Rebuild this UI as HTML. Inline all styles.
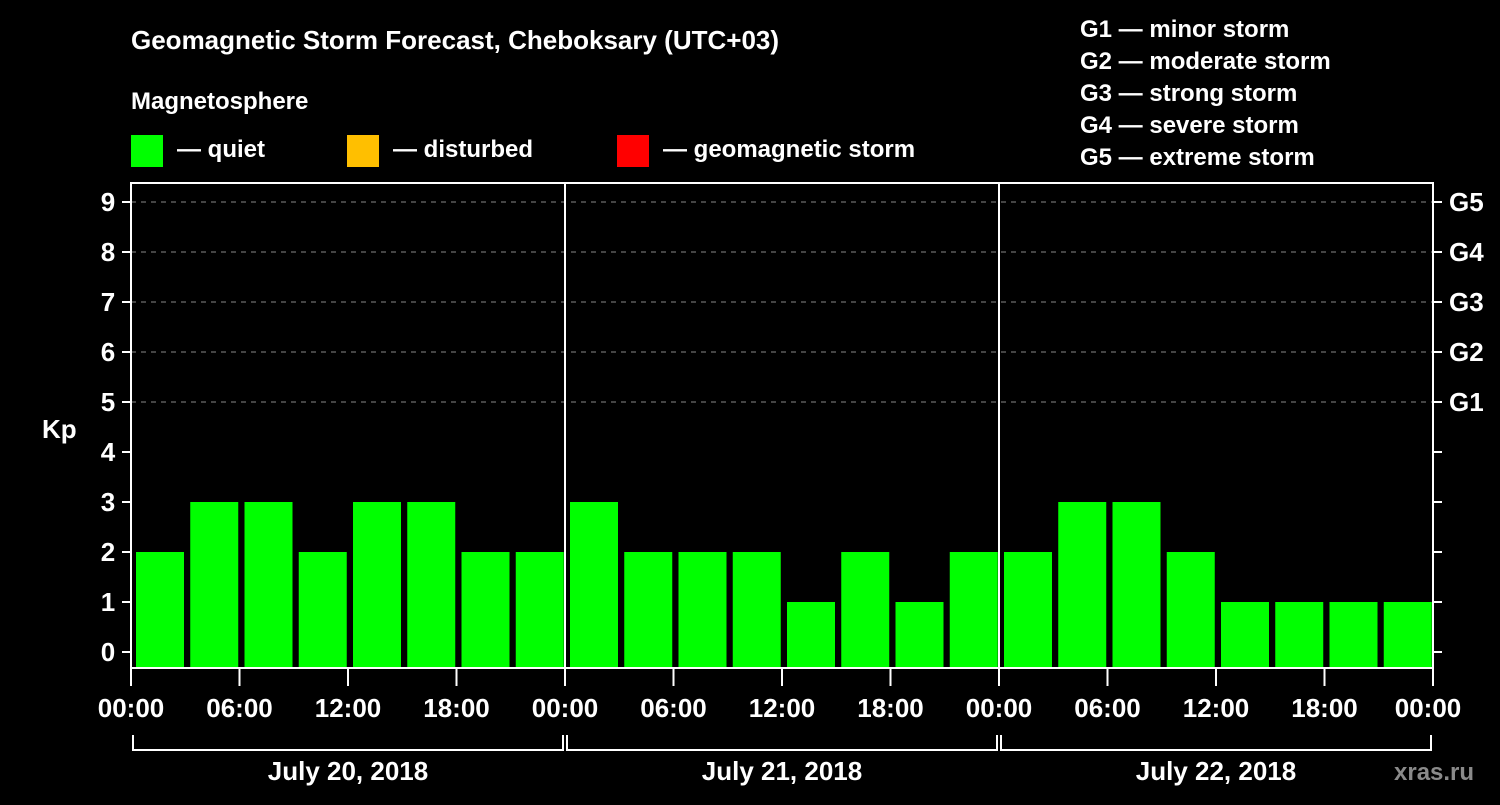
<!DOCTYPE html>
<html><head><meta charset="utf-8"><style>
body{margin:0;background:#000;width:1500px;height:800px;overflow:hidden;font-family:"Liberation Sans",sans-serif;}
svg text{font-family:"Liberation Sans",sans-serif;font-weight:bold;fill:#fff;}
</style></head><body>
<svg id="c" width="1500" height="800">
<rect width="1500" height="800" fill="#000"/>
<text x="131" y="49" font-size="26">Geomagnetic Storm Forecast, Cheboksary (UTC+03)</text>
<text x="131" y="109" font-size="24">Magnetosphere</text>
<g><rect x="131" y="135" width="32" height="32" fill="#00ff00"/><text x="177" y="157" font-size="24">— quiet</text></g>
<g><rect x="347" y="135" width="32" height="32" fill="#ffbf00"/><text x="393" y="157" font-size="24">— disturbed</text></g>
<g><rect x="617" y="135" width="32" height="32" fill="#ff0000"/><text x="663" y="157" font-size="24">— geomagnetic storm</text></g>
<g font-size="24">
<text x="1080" y="37">G1 — minor storm</text>
<text x="1080" y="69">G2 — moderate storm</text>
<text x="1080" y="101">G3 — strong storm</text>
<text x="1080" y="133">G4 — severe storm</text>
<text x="1080" y="165">G5 — extreme storm</text>
</g>
<text x="42" y="438" font-size="26">Kp</text>
<text x="1394" y="780" font-size="24" fill="#888" style="fill:#8a8a8a">xras.ru</text>
<g id="plot"></g>
</svg>
<script>
const days = ["July 20, 2018","July 21, 2018","July 22, 2018"];
const kpValues = [2,3,3,2,3,3,2,2, 3,2,2,2,1,2,1,2, 2,3,3,2,1,1,1,1];
const yTicks = [0,1,2,3,4,5,6,7,8,9];
const gLabels = [[5,"G1"],[6,"G2"],[7,"G3"],[8,"G4"],[9,"G5"]];
const hourLabels = ["00:00","06:00","12:00","18:00"];

const NS="http://www.w3.org/2000/svg";
const L=131,R=1433,T=183,B=668;
const y=v=>652-v*50;
const x=i=>L+(R-L)*i/kpValues.length;
const g=document.getElementById('plot');
function mk(tag,at,txt){const e=document.createElementNS(NS,tag);for(const k in at)e.setAttribute(k,at[k]);if(txt!=null)e.textContent=txt;g.appendChild(e);return e;}
yTicks.forEach(v=>{
  if(v>=5){const l=mk('line',{x1:L,x2:R,y1:y(v),y2:y(v),stroke:'#888','stroke-dasharray':'5,5','stroke-width':1});
  
  }
  const t1=mk('line',{x1:122,x2:L,y1:y(v),y2:y(v),stroke:'#fff','stroke-width':2});
  
  
  const t2=mk('line',{x1:R,x2:1442,y1:y(v),y2:y(v),stroke:'#fff','stroke-width':2});
  
  
  const lb=mk('text',{x:108,y:y(v)+9,'font-size':26,'text-anchor':'middle'},v);
  
  
});
gLabels.forEach(([v,s])=>{
  const t=mk('text',{x:1449,y:y(v)+9,'font-size':26},s);
  
  
});
kpValues.forEach((v,i)=>{
  const r=mk('rect',{x:x(i)+5,y:y(v),width:48,height:B-y(v),fill:'#00ff00'});
  
  
});
const fr=mk('rect',{x:L,y:T,width:R-L,height:B-T,fill:'none',stroke:'#fff','stroke-width':2});


const per=kpValues.length/days.length;
days.forEach((d,k)=>{
  const x0=x(k*per),x1=x((k+1)*per);
  if(k>0){const s=mk('line',{x1:x0,x2:x0,y1:T,y2:B,stroke:'#fff','stroke-width':2});
  
  }
  const br=mk('path',{d:`M${x0+2},735V750H${x1-2}V735`,fill:'none',stroke:'#fff','stroke-width':2});
  
  
  const dl=mk('text',{x:(x0+x1)/2,y:780,'font-size':26,'text-anchor':'middle'},d);
  
  
  hourLabels.forEach((h,j)=>{
    const xx=x(k*per+j*2);
    const tk=mk('line',{x1:xx,x2:xx,y1:B,y2:686,stroke:'#fff','stroke-width':2});
    
    
    const tl=mk('text',{x:xx,y:717,'font-size':26,'text-anchor':'middle'},h);
    
    
  });
});
const xe=x(kpValues.length);
const tk=mk('line',{x1:xe,x2:xe,y1:B,y2:686,stroke:'#fff','stroke-width':2});


const tl=mk('text',{x:xe-5,y:717,'font-size':26,'text-anchor':'middle'},"00:00");


</script>
</body></html>
